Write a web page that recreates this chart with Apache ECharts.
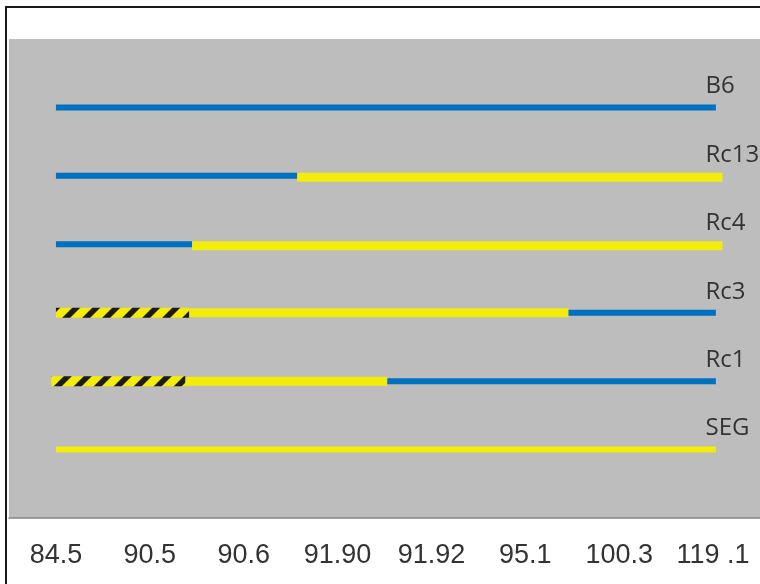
<!DOCTYPE html>
<html>
<head>
<meta charset="utf-8">
<script src="https://cdn.jsdelivr.net/npm/echarts@6/dist/echarts.min.js"></script>
<style>html,body{margin:0;padding:0;background:#fff;}#c{width:760px;height:584px;}</style>
</head>
<body>
<div id="c"></div>
<script>
// ---- data ----
const categories = ['84.5', '90.5', '90.6', '91.90', '91.92', '95.1', '100.3', '119 .1'];
const rowNames = ['SEG', 'Rc1', 'Rc3', 'Rc4', 'Rc13', 'B6'];
// segments per row: [from, to, genotype]  (from/to in category-index units)
// genotype: 'B' = B6 (blue), 'S' = SEG (yellow), 'U' = undetermined (hatched)
const segSEG  = [[0, 7.03, 'S']];
const segRc1  = [[-0.05, 1.38, 'U'], [1.38, 3.53, 'S'], [3.53, 7.03, 'B']];
const segRc3  = [[0, 1.42, 'U'], [1.42, 5.46, 'S'], [5.46, 7.03, 'B']];
const segRc4  = [[0, 1.45, 'B'], [1.45, 7.1, 'S']];
const segRc13 = [[0, 2.57, 'B'], [2.57, 7.1, 'S']];
const segB6   = [[0, 7.03, 'B']];
const segments = [segSEG, segRc1, segRc3, segRc4, segRc13, segB6];

// ---- build ----
const BLUE = '#0070c0', YELLOW = '#f3eb0a';
function makeHatch() {
  const c = document.createElement('canvas');
  c.width = 20; c.height = 20;
  const g = c.getContext('2d');
  g.fillStyle = YELLOW; g.fillRect(0, 0, 20, 20);
  g.fillStyle = '#1e1a14';
  for (const k of [-20, 0, 20]) {
    g.beginPath();
    g.moveTo(k, 20); g.lineTo(k + 8, 20); g.lineTo(k + 28, 0); g.lineTo(k + 20, 0);
    g.closePath(); g.fill();
  }
  return c;
}
const hatch = { image: makeHatch(), repeat: 'repeat' };

const segData = [];
segments.forEach((segs, r) => segs.forEach(s => segData.push([s[0], s[1], r + 1, s[2], rowNames[r]])));
const labelData = rowNames.map((n, r) => [6.92, r + 1, n]);

const chart = echarts.init(document.getElementById('c'), null, { renderer: 'canvas' });
chart.setOption({
  animation: false,
  backgroundColor: '#fff',
  grid: { left: 9, top: 39, width: 754, bottom: 66, show: true, backgroundColor: '#bdbdbd', borderWidth: 0 },
  xAxis: [
    {
      type: 'category', data: categories, boundaryGap: true,
      axisLine: { lineStyle: { color: '#858585', width: 1.5 } },
      axisTick: { length: 9, lineStyle: { color: '#858585', width: 1.5 } },
      axisLabel: { fontFamily: '"Liberation Sans", Arial, sans-serif', fontSize: 27, color: '#333', margin: 24, interval: 0 },
      splitLine: { show: false }
    },
    { type: 'value', min: -0.5, max: 7.5, show: false }
  ],
  yAxis: { type: 'value', min: 0, max: 7, show: false, splitLine: { show: false } },
  graphic: [{
    type: 'rect', shape: { x: 6, y: 7, width: 800, height: 700 },
    style: { fill: 'none', stroke: '#1a1a1a', lineWidth: 2 }, z: 100
  }],
  series: [
    {
      type: 'custom', xAxisIndex: 1, data: segData,
      renderItem: function (params, api) {
        const from = api.value(0), to = api.value(1), row = api.value(2);
        const t = segData[params.dataIndex][3];
        const name = segData[params.dataIndex][4];
        const p1 = api.coord([from, row]), p2 = api.coord([to, row]);
        let h, fill;
        if (t === 'B') { h = 6; fill = BLUE; }
        else if (t === 'S') { h = name === 'SEG' ? 6 : 9; fill = YELLOW; }
        else { h = 10; fill = hatch; }
        const dy = (t === 'S' && (name === 'Rc13' || name === 'Rc4')) ? 1.5 : 0;
        return { type: 'rect', shape: { x: p1[0], y: p1[1] - h / 2 + dy, width: p2[0] - p1[0], height: h }, style: { fill: fill } };
      }
    },
    {
      type: 'custom', xAxisIndex: 1, data: labelData,
      renderItem: function (params, api) {
        const p = api.coord([api.value(0), api.value(1)]);
        return { type: 'text', x: p[0], y: p[1] - 21,
          style: { text: labelData[params.dataIndex][2], font: '24px "Open Sans"', fill: '#333', align: 'left', verticalAlign: 'middle' } };
      }
    }
  ]
});
</script>
</body>
</html>
